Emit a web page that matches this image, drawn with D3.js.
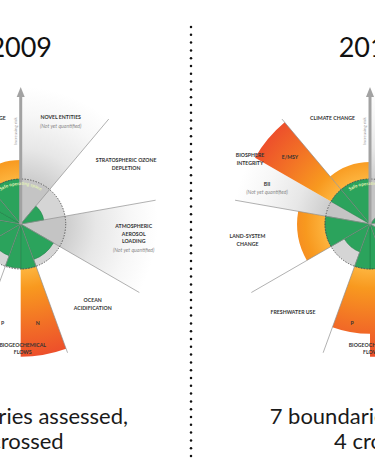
<!DOCTYPE html>
<html>
<head>
<meta charset="utf-8">
<script src="https://cdn.jsdelivr.net/npm/d3@7"></script>
<style>
  body { margin: 0; background: #fff; }
  svg { display: block; }
</style>
</head>
<body>
<script>
// planetary boundaries, clockwise starting at -40deg (climate change sits left of the arrow)
const segments = ["Climate change", "Novel entities", "Stratospheric ozone depletion",
  "Atmospheric aerosol loading", "Ocean acidification", "Biogeochemical flows N",
  "Biogeochemical flows P", "Freshwater use", "Land-system change",
  "Biosphere integrity BII", "Biosphere integrity E/MSY"];
const segmentShare = [2, 2, 2, 2, 2, 1, 1, 2, 2, 1, 1];   // in 20deg units

// control variable relative to the boundary (1 = boundary), null = not yet quantified
const values2009 = [1.42, null, 0.52, null, 0.84, 2.95, 0.98, 0.75, 0.85, 2.9, 2.9];
const values2015 = [1.38, null, 0.40, null, 0.86, 2.95, 2.44, 0.66, 1.62, null, 2.95];

const years = ["2009", "2015"];
const captions = [["7 boundaries assessed,", "3 crossed"], ["7 boundaries assessed,", "4 crossed"]];

const labelLines = [
  ["CLIMATE CHANGE"],
  ["NOVEL ENTITIES", "(Not yet quantified)"],
  ["STRATOSPHERIC OZONE", "DEPLETION"],
  ["ATMOSPHERIC", "AEROSOL", "LOADING", "(Not yet quantified)"],
  ["OCEAN", "ACIDIFICATION"],
  ["N"],
  ["P"],
  ["BIOGEOCHEMICAL", "FLOWS"],
  ["FRESHWATER USE"],
  ["LAND-SYSTEM", "CHANGE"],
  ["BII", "(Not yet quantified)"],
  ["E/MSY"],
  ["BIOSPHERE", "INTEGRITY"]
];

// layout
const W = 375, H = 472;
const centers = [20.7, 370];
const capShift = [-3, 10];
const cy = 224;
const R = 45;          // safe boundary radius
const L = 137;         // length of spokes / arrow
const labelPos = [     // dx from centre, first baseline, anchor
  [-15, 119.5, "end"], [40, 119, "middle"], [105.5, 162, "middle"], [113, 228, "middle"],
  [72, 302, "middle"], [17, 325, "middle"], [-18, 325, "middle"], [2, 346.5, "middle"],
  [-77, 314, "middle"], [-122.5, 238, "middle"], [-103, 185.5, "middle"], [-80, 158.5, "middle"],
  [-120, 157, "middle"]
];

const svg = d3.select("body").append("svg")
  .attr("width", W).attr("height", H)
  .style("font-family", "Lato, 'Open Sans', sans-serif");

const defs = svg.append("defs");
const r = d3.scaleLinear().domain([0, 1]).range([0, R]);
const deg = Math.PI / 180;

const pie = d3.pie().sort(null).value(d => d)
  .startAngle(-40 * deg).endAngle(320 * deg);

// gradients live in the translated space of each diagram, so centre is 0,0
const og = defs.append("radialGradient").attr("id", "orange")
  .attr("gradientUnits", "userSpaceOnUse").attr("cx", 0).attr("cy", 0).attr("r", L);
[[R / L, "#fdb43e"], [0.47, "#f8991f"], [0.74, "#f27026"], [1, "#ec4b2c"]]
  .forEach(s => og.append("stop").attr("offset", s[0]).attr("stop-color", s[1]));
const gg = defs.append("radialGradient").attr("id", "grey")
  .attr("gradientUnits", "userSpaceOnUse").attr("cx", 0).attr("cy", 0).attr("r", L);
[[R / L, "#cdcdcd"], [0.55, "#e7e7e7"], [0.8, "#f7f7f7"], [1, "#ffffff"]]
  .forEach(s => gg.append("stop").attr("offset", s[0]).attr("stop-color", s[1]));

function drawDiagram(i, values) {
  const cx = centers[i];
  const g = svg.append("g").attr("transform", `translate(${cx},${cy})`);
  const arcs = pie(segmentShare).map((a, k) => ({ ...a, v: values[k] }));
  const arc = d3.arc();

  // not yet quantified: grey fan
  g.selectAll("path.nq").data(arcs.filter(d => d.v === null)).enter()
    .append("path").attr("class", "nq")
    .attr("d", d => arc({ ...d, innerRadius: R, outerRadius: L }))
    .attr("fill", "url(#grey)");

  // beyond the boundary
  g.selectAll("path.over").data(arcs.filter(d => d.v !== null && d.v > 1)).enter()
    .append("path").attr("class", "over")
    .attr("d", d => arc({ ...d, innerRadius: R, outerRadius: r(d.v) }))
    .attr("fill", "url(#orange)");

  // globe
  g.append("circle").attr("r", R).attr("fill", "#d5d5d5");

  g.selectAll("path.nqin").data(arcs.filter(d => d.v === null)).enter()
    .append("path").attr("class", "nqin")
    .attr("d", d => arc({ ...d, innerRadius: 0, outerRadius: R }))
    .attr("fill", "#b9b9b9").attr("opacity", 0.6);

  // safe part
  g.selectAll("path.safe").data(arcs.filter(d => d.v !== null)).enter()
    .append("path").attr("class", "safe")
    .attr("d", d => arc({ ...d, innerRadius: 0, outerRadius: r(Math.min(d.v, 1)) }))
    .attr("fill", "#2ba35c").attr("stroke", "#1c7b42").attr("stroke-width", 0.5);

  // spokes
  const spokes = arcs.map(d => d.startAngle)
    .filter(a => Math.round(a / deg) % 40 === 0 && Math.round(a / deg) !== 0);
  g.selectAll("line.spoke").data(spokes).enter()
    .append("line").attr("class", "spoke")
    .attr("x1", 0).attr("y1", 0)
    .attr("x2", a => L * Math.sin(a)).attr("y2", a => -L * Math.cos(a))
    .attr("stroke", "#8f8f8f").attr("stroke-width", 0.7);

  // boundary circle
  g.append("circle").attr("r", R).attr("fill", "none")
    .attr("stroke", "#4a4a4a").attr("stroke-width", 0.9).attr("stroke-dasharray", "1.4,1.4");

  // curved label
  const tr = R - 6;
  defs.append("path").attr("id", "safePath" + i)
    .attr("d", `M${cx - tr * Math.sin(45 * deg)},${cy - tr * Math.cos(45 * deg)} A${tr},${tr} 0 0 1 ${cx + tr * Math.sin(45 * deg)},${cy - tr * Math.cos(45 * deg)}`);
  svg.append("text").attr("font-size", 4.6).attr("font-weight", 700).attr("fill", "#e4f3b6")
    .append("textPath").attr("href", "#safePath" + i)
    .attr("startOffset", "50%").attr("text-anchor", "middle")
    .text("Safe operating space");

  // increasing risk arrow
  g.append("line").attr("x1", 0).attr("y1", 0).attr("x2", 0).attr("y2", -L + 9)
    .attr("stroke", "#a2a2a2").attr("stroke-width", 3);
  g.append("path").attr("d", `M-4,${-L + 10} L4,${-L + 10} L0,${-L} Z`).attr("fill", "#a2a2a2");
  g.append("text").attr("transform", `translate(-4,${-L + 44}) rotate(-90)`)
    .attr("text-anchor", "middle").attr("font-size", 4.4).attr("fill", "#9a9a9a")
    .text("Increasing risk");

  // labels
  labelLines.forEach((lines, k) => {
    const [dx, y0, anchor] = labelPos[k];
    const t = svg.append("text").attr("text-anchor", anchor).attr("font-size", 5.2);
    let y = y0;
    lines.forEach((s, j) => {
      const italic = s.startsWith("(");
      if (j > 0) y += italic ? 8.5 : 7.5;
      t.append("tspan").attr("x", cx + dx).attr("y", y)
        .attr("font-weight", italic ? 400 : 700)
        .attr("font-style", italic ? "italic" : "normal")
        .attr("fill", italic ? "#8a8a8a" : "#333")
        .text(s);
    });
  });

  // title & caption
  svg.append("text").attr("x", cx).attr("y", 57).attr("text-anchor", "middle")
    .attr("font-size", 27).attr("fill", "#111").text(years[i]);
  captions[i].forEach((s, j) => {
    svg.append("text").attr("x", cx + capShift[i]).attr("y", 424 + j * 24.5).attr("text-anchor", "middle")
      .attr("font-size", 22).attr("fill", "#1a1a1a").text(s);
  });
}

drawDiagram(0, values2009);
drawDiagram(1, values2015);

// dotted divider
svg.append("g").selectAll("circle").data(d3.range(27, 463, 7.8)).enter()
  .append("circle").attr("cx", 191).attr("cy", d => d).attr("r", 1.25).attr("fill", "#111");
</script>
</body>
</html>
